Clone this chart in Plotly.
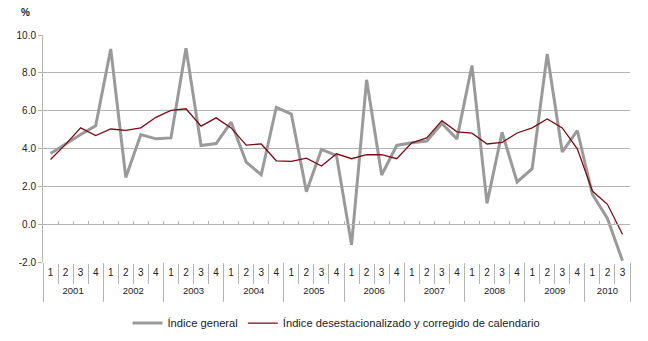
import plotly.graph_objects as go

years = ['2001', '2002', '2003', '2004', '2005', '2006', '2007', '2008', '2009', '2010']
quarters = ['1', '2', '3', '4']
n_points = 39

cat_year = [y for y in years for q in quarters][:n_points]
cat_quarter = [q for y in years for q in quarters][:n_points]

indice_general = [3.74, 4.25, 4.74, 5.2, 9.26, 2.47, 4.74, 4.51, 4.56, 9.3, 4.16, 4.26,
                  5.39, 3.28, 2.61, 6.18, 5.82, 1.72, 3.95, 3.63, -1.09, 7.63, 2.6, 4.16,
                  4.3, 4.39, 5.32, 4.51, 8.39, 1.1, 4.86, 2.23, 2.93, 9.0, 3.82, 4.95,
                  1.58, 0.3, -1.93]
indice_desest = [3.42, 4.22, 5.09, 4.68, 5.03, 4.96, 5.09, 5.65, 6.02, 6.1, 5.18, 5.62,
                 5.09, 4.18, 4.24, 3.35, 3.32, 3.49, 3.07, 3.72, 3.46, 3.67, 3.67, 3.46,
                 4.3, 4.56, 5.47, 4.88, 4.81, 4.24, 4.32, 4.82, 5.09, 5.56, 5.09, 3.98,
                 1.75, 1.05, -0.53]

series_names = ['Índice general', 'Índice desestacionalizado y corregido de calendario']

y_tickvals = [-2, 0, 2, 4, 6, 8, 10]
y_ticktext = ['-2.0', '0.0', '2.0', '4.0', '6.0', '8.0', '10.0']

# derived category positions (index along the quarterly axis)
idx = list(range(n_points))
quarter_bounds = [k - 0.5 for k in range(n_points + 1)]
year_present = [y for y in years if y in cat_year]
year_centers = [sum(i for i in idx if cat_year[i] == y) / cat_year.count(y) for y in year_present]
year_bounds = [min(i for i in idx if cat_year[i] == y) - 0.5 for y in year_present] + [n_points - 0.5]

FONT = 'Liberation Sans, Arial, sans-serif'
GRID = '#b3b3b3'
TXT = '#222222'
XR = [-0.5, n_points - 0.5]

fig = go.Figure()
fig.add_trace(go.Scatter(x=idx, y=indice_general, mode='lines',
                         name=series_names[0], line=dict(color='#9a9a9a', width=3),
                         customdata=[[a, b] for a, b in zip(cat_year, cat_quarter)],
                         hovertemplate='%{customdata[0]} T%{customdata[1]}: %{y:.1f}<extra></extra>'))
fig.add_trace(go.Scatter(x=idx, y=indice_desest, mode='lines',
                         name=series_names[1], line=dict(color='#7a0c14', width=1.3),
                         customdata=[[a, b] for a, b in zip(cat_year, cat_quarter)],
                         hovertemplate='%{customdata[0]} T%{customdata[1]}: %{y:.1f}<extra></extra>'))
# helper traces so that the auxiliary axes are rendered
for ax in ['x2', 'x3', 'x4', 'x5']:
    fig.add_trace(go.Scatter(x=[None], y=[None], xaxis=ax, showlegend=False, hoverinfo='skip'))

common = dict(type='linear', range=XR, showgrid=False, zeroline=False, automargin=False)
qfont = dict(family=FONT, size=10, color=TXT)
yfont = dict(family=FONT, size=9.5, color=TXT)

fig.update_layout(
    width=648, height=341,
    margin=dict(l=43, r=18, t=35, b=79, autoexpand=False),
    paper_bgcolor='white', plot_bgcolor='white',
    font=dict(family=FONT, size=10, color=TXT),
    # quarter separators
    xaxis=dict(**common, tickvals=quarter_bounds, ticks='outside', ticklen=20, tickcolor=GRID,
               showticklabels=False, showline=True, linecolor='white', linewidth=2),
    # axis line crossing at zero with small ticks
    xaxis2=dict(**common, overlaying='x', anchor='free', position=1 / 6,
                tickvals=quarter_bounds, ticks='inside', ticklen=3, tickcolor=GRID,
                showticklabels=False, showline=True, linecolor=GRID, linewidth=1),
    # quarter labels
    xaxis3=dict(**common, overlaying='x', anchor='y', tickvals=idx, ticktext=cat_quarter,
                ticks='', showline=False, tickfont=qfont, ticklabelstandoff=3),
    # year labels
    xaxis4=dict(**common, overlaying='x', anchor='y', tickvals=year_centers, ticktext=year_present,
                ticks='', showline=False, tickfont=yfont, ticklabelstandoff=21),
    # year separators
    xaxis5=dict(**common, overlaying='x', anchor='y', tickvals=year_bounds, ticks='outside',
                ticklen=39, tickcolor=GRID, showticklabels=False, showline=False),
    yaxis=dict(range=[-2, 10], tickvals=y_tickvals, ticktext=y_ticktext,
               showgrid=True, gridcolor=GRID, gridwidth=1, zeroline=False, automargin=False,
               showline=True, linecolor=GRID, ticks='outside', ticklen=4, tickcolor=GRID,
               tickfont=dict(family=FONT, size=10, color=TXT)),
    legend=dict(orientation='h', x=0.5, xanchor='center', y=-0.269, yanchor='middle',
                font=dict(family=FONT, size=11.2, color=TXT), itemwidth=30,
                bgcolor='rgba(0,0,0,0)'),
    annotations=[dict(text='<b>%</b>', xref='paper', yref='paper', x=-0.029, y=1.1,
                      xanchor='center', yanchor='middle', showarrow=False,
                      font=dict(family=FONT, size=10, color=TXT))],
    showlegend=True,
)

fig.write_html('out.html')
